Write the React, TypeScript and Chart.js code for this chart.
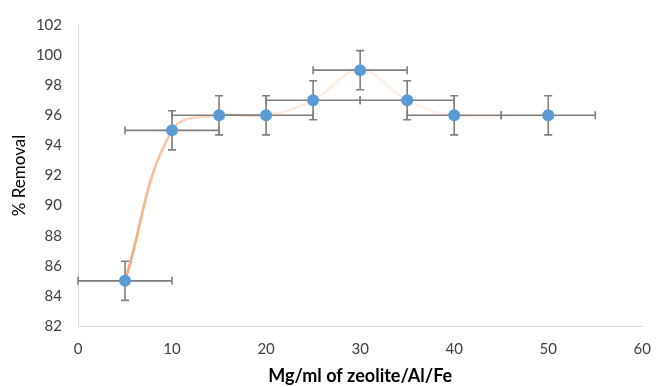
import React, { useEffect, useRef } from "react";
import { Chart, registerables } from "chart.js";

Chart.register(...registerables);

const doseX: number[] = [5, 10, 15, 20, 25, 30, 35, 40, 50];
const removalY: number[] = [85, 95, 96, 96, 97, 99, 97, 96, 96];
const errX: number[] = [5, 5, 5, 5, 5, 5, 5, 5, 5];
const errY: number[] = [1.3, 1.3, 1.3, 1.3, 1.3, 1.3, 1.3, 1.3, 1.3];
const xTicks: number[] = [0, 10, 20, 30, 40, 50, 60];
const yTicks: number[] = [82, 84, 86, 88, 90, 92, 94, 96, 98, 100, 102];

const FONT = "Lato, 'Open Sans', sans-serif";

const errorBarPlugin = {
  id: "errorBars",
  afterDatasetDraw(chart: any, args: any) {
    if (args.index !== 0) return;
    const { ctx, scales } = chart;
    const xs = scales.x;
    const ys = scales.y;
    ctx.save();
    ctx.strokeStyle = "#7f7f7f";
    ctx.lineWidth = 1.6;
    const cap = 4;
    for (let i = 0; i < doseX.length; i++) {
      const px = xs.getPixelForValue(doseX[i]);
      const py = ys.getPixelForValue(removalY[i]);
      const x0 = xs.getPixelForValue(doseX[i] - errX[i]);
      const x1 = xs.getPixelForValue(doseX[i] + errX[i]);
      const y0 = ys.getPixelForValue(removalY[i] - errY[i]);
      const y1 = ys.getPixelForValue(removalY[i] + errY[i]);
      ctx.beginPath();
      ctx.moveTo(x0, py);
      ctx.lineTo(x1, py);
      ctx.moveTo(x0, py - cap);
      ctx.lineTo(x0, py + cap);
      ctx.moveTo(x1, py - cap);
      ctx.lineTo(x1, py + cap);
      ctx.moveTo(px, y0);
      ctx.lineTo(px, y1);
      ctx.moveTo(px - cap, y0);
      ctx.lineTo(px + cap, y0);
      ctx.moveTo(px - cap, y1);
      ctx.lineTo(px + cap, y1);
      ctx.stroke();
    }
    ctx.restore();
  },
};

export default function App() {
  const ref = useRef<HTMLCanvasElement | null>(null);
  useEffect(() => {
    document.body.style.margin = "0";
    const canvas = ref.current!;
    const points = doseX.map((x, i) => ({ x, y: removalY[i] }));
    const chart = new Chart(canvas, {
      type: "scatter",
      data: {
        datasets: [
          {
            data: points,
            showLine: true,
            tension: 0.4,
            borderWidth: 2.7,
            pointRadius: 0,
            borderColor: (c: any) => {
              const area = c.chart.chartArea;
              if (!area) return "#f4b183";
              const g = c.chart.ctx.createLinearGradient(area.left, 0, area.right, 0);
              g.addColorStop(0, "rgba(244,168,118,1)");
              g.addColorStop(0.1, "rgba(244,170,122,0.95)");
              g.addColorStop(0.18, "rgba(246,190,150,0.7)");
              g.addColorStop(0.35, "rgba(250,215,190,0.55)");
              g.addColorStop(0.6, "rgba(252,228,212,0.5)");
              g.addColorStop(1, "rgba(252,232,220,0.45)");
              return g;
            },
            order: 2,
          },
          {
            data: points,
            showLine: false,
            pointRadius: 6,
            pointBackgroundColor: "#5b9bd5",
            pointBorderColor: "#5b9bd5",
            pointBorderWidth: 0,
            order: 1,
          },
        ],
      },
      options: {
        animation: false,
        responsive: false,
        layout: { padding: { top: 19, right: 22, left: 0, bottom: 0 } },
        plugins: { legend: { display: false }, tooltip: { enabled: false } },
        scales: {
          x: {
            type: "linear",
            min: 0,
            max: 60,
            afterBuildTicks: (s: any) => {
              s.ticks = xTicks.map((v) => ({ value: v }));
            },
            afterFit: (s: any) => {
              s.height = 61;
            },
            grid: { display: false, drawTicks: false },
            border: { display: true, color: "#d9d9d9", width: 1 },
            ticks: { padding: 14, color: "#404040", font: { family: FONT, size: 15 } },
            title: {
              display: true,
              text: "Mg/ml of zeolite/Al/Fe",
              color: "#000000",
              font: { family: FONT, size: 18, weight: "bold" },
              padding: { top: 0, bottom: 0 },
            },
          },
          y: {
            type: "linear",
            min: 82,
            max: 102,
            afterBuildTicks: (s: any) => {
              s.ticks = yTicks.map((v) => ({ value: v }));
            },
            afterFit: (s: any) => {
              s.width = 78;
            },
            grid: { display: false, drawTicks: false },
            border: { display: true, color: "#d9d9d9", width: 1 },
            ticks: { padding: 16, color: "#404040", font: { family: FONT, size: 15 } },
            title: {
              display: true,
              text: "% Removal",
              color: "#000000",
              font: { family: FONT, size: 17 },
              padding: { top: 9, bottom: 0 },
            },
          },
        },
      },
      plugins: [errorBarPlugin],
    } as any);
    return () => chart.destroy();
  }, []);
  return (
    <div style={{ width: 665, height: 387, background: "#fff" }}>
      <canvas ref={ref} width={665} height={387} style={{ display: "block" }} />
    </div>
  );
}
